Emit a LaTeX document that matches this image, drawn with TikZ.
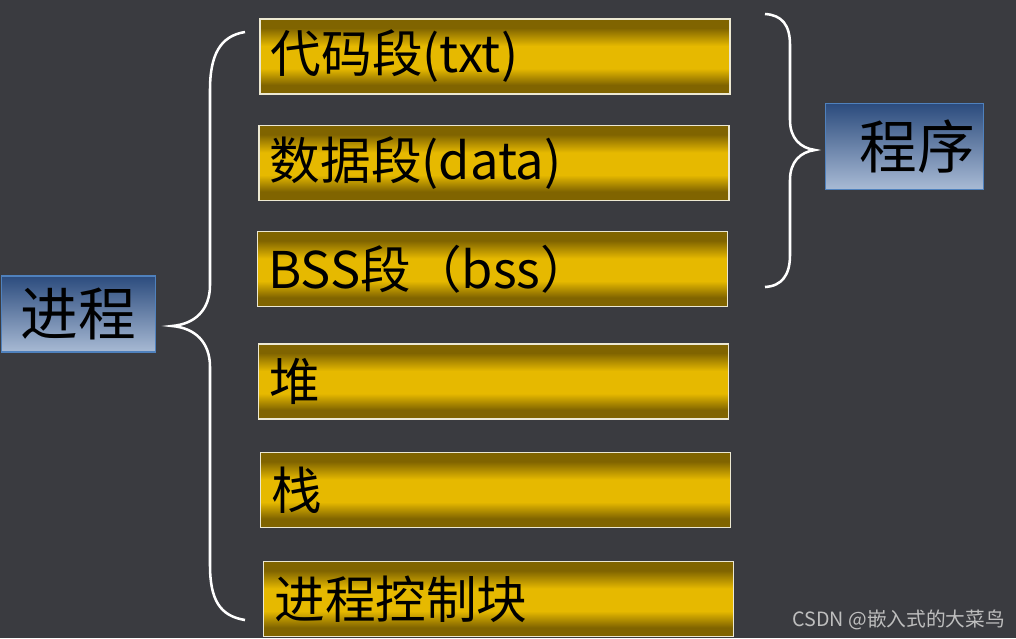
\documentclass[tikz,border=0pt]{standalone}
\usepackage{fontspec}
\newfontfamily\cjk{Noto Sans CJK SC}
\usetikzlibrary{positioning}
\definecolor{bgdark}{RGB}{58,59,64}
\definecolor{segtop}{RGB}{128,100,0}
\definecolor{segmid}{RGB}{230,185,0}
\definecolor{segedge}{RGB}{236,232,210}
\definecolor{blutop}{RGB}{44,76,126}
\definecolor{blubot}{RGB}{168,186,212}
\definecolor{bluedge}{RGB}{79,129,189}
\definecolor{wmgray}{RGB}{190,190,190}
\pgfdeclareverticalshading{segshade}{100bp}{color(0bp)=(segtop); color(31bp)=(segtop);
  color(42bp)=(segmid); color(57bp)=(segmid); color(69bp)=(segtop); color(100bp)=(segtop)}

\begin{document}
\begin{tikzpicture}[x=0.025cm, y=-0.025cm,
    seg/.style={rectangle, minimum width=11.75cm, minimum height=1.875cm,
      draw=segedge, line width=0.9pt, shading=segshade, text width=11.2cm,
      align=left, inner xsep=0.275cm, font=\cjk\fontsize{36}{38}\selectfont},
    tag/.style={rectangle, draw=bluedge, line width=0.8pt, top color=blutop,
      bottom color=blubot},
    brc/.style={white, line width=1.8pt}
  ]
    \useasboundingbox[fill=bgdark] (0,0) rectangle (1016,638);

    \node[seg] (txt)  at (495,56.5)  {代码段(txt)};
    \node[seg] (dat)  at (494,163)   {数据段(data)};
    \node[seg] (bss)  at (492.5,269) {BSS段（bss）};
    \node[seg] (heap) at (493.5,381.5) {堆};
    \node[seg] (stk)  at (495.5,490)   {栈};
    \node[seg] (pcb)  at (498.5,599) {进程控制块};

    \node[tag, minimum width=3.83cm, minimum height=1.9cm,
      font=\cjk\fontsize{41}{43}\selectfont]   (proc) at (78.5,314)  {进程};
    \node[tag, minimum width=3.93cm, minimum height=2.13cm,
      font=\cjk\fontsize{41}{43}\selectfont]   (prog) at (904.5,146.5) {\hspace*{0.65cm}程序};

    % braces
    \coordinate (ltop) at (245,32);
    \coordinate (lmid) at (172,326);
    \coordinate (lbot) at (245,620);
    \draw[brc] (ltop) .. controls (220,36) and (210,55) .. (210,90) -- (210,285)
      .. controls (210,310) and (195,324) .. (lmid)
      .. controls (195,328) and (210,342) .. (210,367) -- (210,565)
      .. controls (210,600) and (220,616) .. (lbot);

    \coordinate (rtop) at (765,14);
    \coordinate (rmid) at (815,150);
    \coordinate (rbot) at (765,287);
    \draw[brc] (rtop) .. controls (782,15) and (790,25) .. (790,45) -- (790,120)
      .. controls (790,138) and (800,148) .. (rmid)
      .. controls (800,152) and (790,162) .. (790,180) -- (790,255)
      .. controls (790,275) and (782,286) .. (rbot);

    \node[wmgray, font=\cjk\fontsize{14}{16}\selectfont, anchor=east] (mark) at (1010,620) {CSDN @嵌入式的大菜鸟};
\end{tikzpicture}
\end{document}
